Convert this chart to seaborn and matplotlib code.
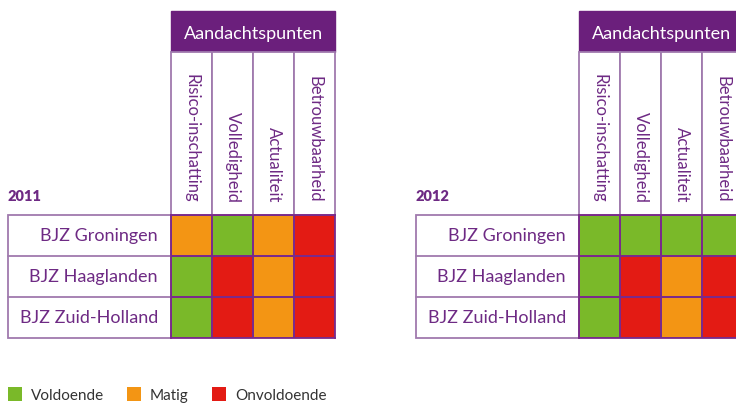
import numpy as np
import pandas as pd
import seaborn as sns
import matplotlib.pyplot as plt
from matplotlib.colors import ListedColormap
from matplotlib.patches import Rectangle

# ---- data ----
organisaties = ["BJZ Groningen", "BJZ Haaglanden", "BJZ Zuid-Holland"]
aandachtspunten = ["Risico-inschatting", "Volledigheid", "Actualiteit", "Betrouwbaarheid"]
niveaus = ["Voldoende", "Matig", "Onvoldoende"]
jaren = ["2011", "2012"]
# 0 = Voldoende, 1 = Matig, 2 = Onvoldoende
scores_2011 = [[1, 0, 1, 2],
               [0, 2, 1, 2],
               [0, 2, 1, 2]]
scores_2012 = [[0, 0, 0, 0],
               [0, 2, 1, 2],
               [0, 2, 1, 2]]

# ---- style ----
GREEN, ORANGE, RED = "#7ab929", "#f39514", "#e31b14"
PURPLE = "#6b1f7c"
TEXT = "#6e2a84"
LINE = "#a07aae"
CELLLINE = "#7a2a8a"
LEGTEXT = "#333333"

sns.set_theme(style="white")
plt.rcParams['font.family'] = ['Lato', 'DejaVu Sans']

W, H = 736, 406
fig = plt.figure(figsize=(W / 100, H / 100), dpi=100)
ov = fig.add_axes([0, 0, 1, 1])
ov.set_xlim(0, W)
ov.set_ylim(H, 0)
ov.axis('off')

cmap = ListedColormap([GREEN, ORANGE, RED])
name_w, cw, rh = 163, 41, 41
top_cells, hdr_top, hdr_bot = 216, 12, 53

for x0, jaar, scores in [(8, jaren[0], scores_2011), (416, jaren[1], scores_2012)]:
    cx0 = x0 + name_w
    # name box
    ov.add_patch(Rectangle((x0, top_cells), name_w, 3 * rh, facecolor="white",
                           edgecolor=LINE, lw=1.3))
    for r in range(1, 3):
        ov.plot([x0, cx0], [top_cells + r * rh] * 2, color=LINE, lw=1.3)
    # header
    ov.add_patch(Rectangle((cx0, hdr_top), 4 * cw, hdr_bot - hdr_top,
                           facecolor=PURPLE, edgecolor=PURPLE, lw=1))
    ov.text(cx0 + 2 * cw, (hdr_top + hdr_bot) / 2 + 1, "Aandachtspunten",
            color="white", fontsize=13, ha="center", va="center")
    for c in range(4):
        ov.add_patch(Rectangle((cx0 + c * cw, hdr_bot), cw, top_cells - hdr_bot,
                               facecolor="white", edgecolor=LINE, lw=1.3))
    ov.text(x0, 197, jaar, color=TEXT, fontsize=10.5, fontweight="heavy",
            ha="left", va="center")

    ax = fig.add_axes([cx0 / W, (H - (top_cells + 3 * rh)) / H,
                       4 * cw / W, 3 * rh / H])
    df = pd.DataFrame(scores, index=organisaties, columns=aandachtspunten)
    sns.heatmap(df, ax=ax, cmap=cmap, vmin=-0.5, vmax=2.5, cbar=False,
                linewidths=1.1, linecolor=CELLLINE)
    ax.xaxis.tick_top()
    ax.tick_params(axis='x', length=0, pad=9.5, labelsize=12, labelcolor=TEXT)
    ax.tick_params(axis='y', length=0, pad=9.5, labelsize=13, labelcolor=TEXT)
    plt.setp(ax.get_xticklabels(), rotation=270, ha="center", va="bottom")
    plt.setp(ax.get_yticklabels(), rotation=0, ha="right", va="center")
    ax.set_xlabel("")
    ax.set_ylabel("")
    for s in ax.spines.values():
        s.set_visible(True)
        s.set_color(CELLLINE)
        s.set_linewidth(1.3)

# legend
for (lx, tx), naam, kleur in zip([(8, 31), (127, 150), (212, 235)], niveaus,
                                 [GREEN, ORANGE, RED]):
    ov.add_patch(Rectangle((lx, 388), 14, 14, facecolor=kleur, edgecolor="none"))
    ov.text(tx, 396, naam, color=LEGTEXT, fontsize=11, ha="left", va="center")

fig.savefig("out.png", dpi=100)
